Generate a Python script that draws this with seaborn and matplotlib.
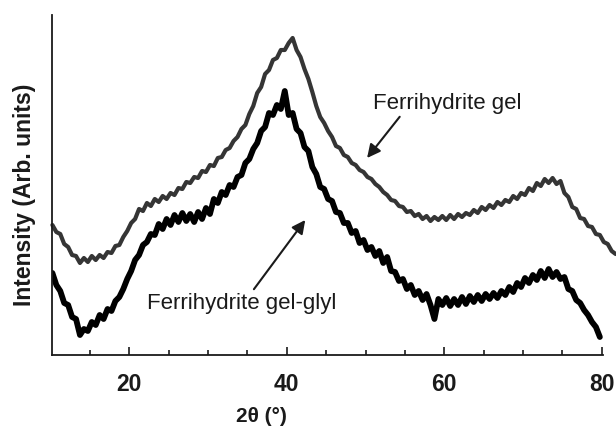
import numpy as np
import pandas as pd
import matplotlib
matplotlib.use("Agg")
import matplotlib.pyplot as plt
import seaborn as sns

# 2-theta grid (degrees), 0.5 deg steps
two_theta_gel = np.arange(10.25, 81.8, 0.5)
two_theta_glyl = np.arange(10.25, 79.8, 0.5)

# Ferrihydrite gel (arb. units)
gel = [130, 123, 121, 111, 108, 100, 99, 92, 97, 93,
       99, 95, 100, 97, 103, 102, 109, 110, 118, 124,
       132, 136, 146, 144, 152, 149, 156, 153, 159, 156,
       162, 160, 167, 166, 173, 172, 178, 177, 184, 183,
       190, 189, 197, 198, 205, 207, 214, 218, 226, 230,
       241, 249, 262, 268, 281, 285, 295, 297, 305, 305,
       312, 317, 305, 298, 286, 276, 263, 249, 238, 232,
       224, 218, 209, 207, 200, 198, 192, 190, 185, 183,
       178, 176, 171, 168, 163, 160, 155, 154, 149, 148,
       143, 144, 139, 141, 136, 139, 134, 138, 135, 139,
       135, 140, 136, 141, 138, 142, 140, 145, 142, 148,
       145, 150, 147, 153, 150, 155, 153, 159, 156, 162,
       160, 167, 164, 172, 169, 176, 172, 177, 171, 174,
       162, 158, 148, 146, 137, 136, 129, 128, 121, 120,
       113, 111, 104, 101]

# Ferrihydrite gel-glyl (arb. units)
glyl = [82, 70, 64, 52, 50, 38, 36, 20, 26, 24,
        33, 30, 40, 36, 46, 44, 54, 58, 66, 76,
        84, 95, 100, 110, 113, 121, 120, 131, 126, 136,
        130, 140, 133, 142, 134, 141, 133, 143, 136, 147,
        141, 156, 152, 163, 160, 170, 168, 178, 180, 192,
        196, 206, 212, 224, 228, 242, 240, 250, 246, 264,
        240, 242, 226, 222, 208, 204, 188, 181, 168, 166,
        156, 154, 143, 142, 132, 132, 122, 124, 112, 115,
        105, 108, 99, 104, 92, 98, 84, 83, 74, 76,
        66, 70, 60, 64, 55, 61, 50, 36, 56, 50,
        57, 49, 56, 50, 58, 51, 59, 53, 60, 54,
        61, 56, 62, 57, 64, 60, 68, 63, 72, 68,
        77, 72, 80, 75, 84, 77, 86, 78, 83, 76,
        78, 66, 64, 55, 52, 45, 40, 33, 28, 18]

x_ticks = [20, 40, 60, 80]
x_minor = [15, 25, 30, 35, 45, 50, 55, 65, 70, 75]

label_gel = "Ferrihydrite gel"
label_glyl = "Ferrihydrite gel-glyl"
x_label = "2θ (°)"
y_label = "Intensity (Arb. units)"

df_gel = pd.DataFrame({"x": two_theta_gel, "y": gel})
df_glyl = pd.DataFrame({"x": two_theta_glyl, "y": glyl})

sns.set_theme(style="white")
plt.rcParams["font.family"] = ["Liberation Sans", "DejaVu Sans"]

fig = plt.figure(figsize=(6.16, 4.30), dpi=100)
ax = fig.add_axes([52 / 616, 1 - 355 / 430, 564 / 616, 340 / 430])

sns.lineplot(data=df_gel, x="x", y="y", ax=ax, color="#353535", lw=3.0,
             estimator=None, sort=False, clip_on=False)
sns.lineplot(data=df_glyl, x="x", y="y", ax=ax, color="black", lw=4.2,
             estimator=None, sort=False)

ax.set_xlim(10.2, 81.8)
ax.set_ylim(0, 340)
ax.spines["top"].set_visible(False)
ax.spines["right"].set_visible(False)
for s in ("left", "bottom"):
    ax.spines[s].set_color("#1a1a1a")
    ax.spines[s].set_linewidth(1.3)
ax.spines["bottom"].set_bounds(10.2, 80.1)

ax.set_xticks(x_ticks)
ax.set_xticklabels([str(t) for t in x_ticks], fontsize=16.5, fontweight="bold",
                   color="#1a1a1a")
ax.set_xticks(x_minor, minor=True)
ax.set_yticks([])
ax.tick_params(axis="x", which="major", direction="in", length=6, width=1.2,
               color="#1a1a1a", pad=13, bottom=True)
ax.tick_params(axis="x", which="minor", direction="in", length=3.5, width=1.2,
               color="#1a1a1a", bottom=True)

ax.set_xlabel(x_label, fontsize=15, fontweight="bold", color="#1a1a1a")
ax.xaxis.set_label_coords(0.372, -0.152)
ax.set_ylabel(y_label, fontsize=16.5, fontweight="bold", color="#1a1a1a")
ax.yaxis.set_label_coords(-0.028, 0.47)

ax.annotate(label_gel, xy=(50.2, 197), xytext=(50.9, 252),
            fontsize=16, va="center", ha="left", color="#1a1a1a",
            arrowprops=dict(arrowstyle="-|>", color="#1a1a1a", lw=1.5,
                            mutation_scale=20, shrinkA=0, shrinkB=0,
                            relpos=(0.2, 0.0)))
ax.annotate(label_glyl, xy=(42.35, 135), xytext=(22.3, 52),
            fontsize=16, va="center", ha="left", color="#1a1a1a",
            arrowprops=dict(arrowstyle="-|>", color="#1a1a1a", lw=1.5,
                            mutation_scale=20, shrinkA=0, shrinkB=0,
                            relpos=(0.55, 1.0)))

fig.savefig("out.png", dpi=100)
